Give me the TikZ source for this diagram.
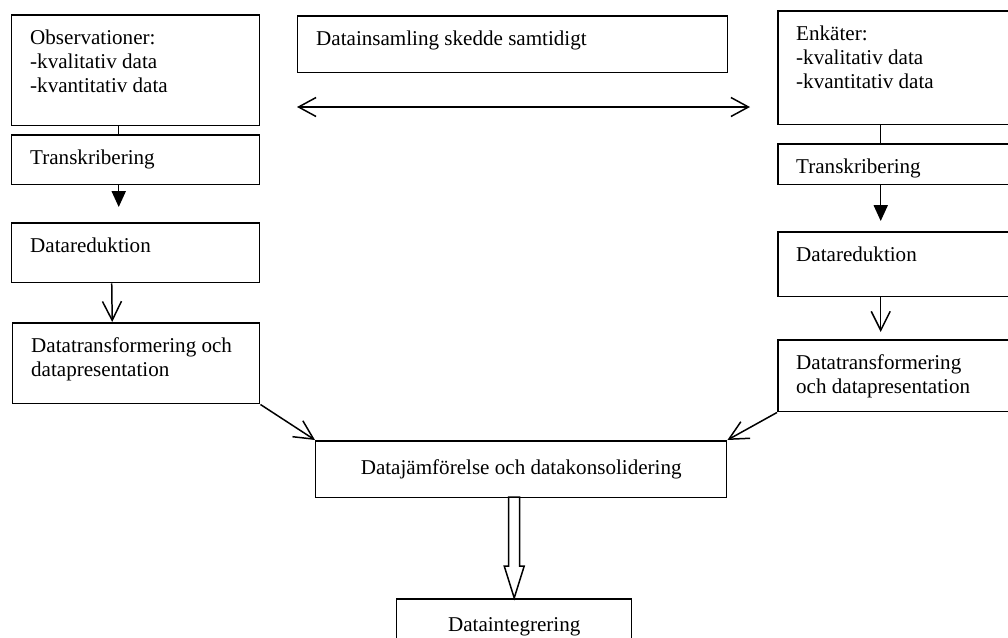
\documentclass[tikz,border=0pt]{standalone}
\usepackage{fontspec}
\setmainfont{Liberation Serif}
\usetikzlibrary{arrows.meta}

\begin{document}
\begin{tikzpicture}[x=0.02cm, y=-0.02cm, line width=0.85pt,
    font=\fontsize{12pt}{13.8pt}\selectfont,
    box/.style={draw, rectangle, anchor=north west, minimum width=4.96cm, inner sep=0pt},
    boxtext/.style={anchor=north west, align=left, inner xsep=10.5pt, inner ysep=8.5pt},
    centerbox/.style={draw, rectangle, anchor=north west, minimum height=1.14cm},
    vhead/.style={-{Straight Barb[length=0.38cm, width=0.38cm]}},
    fhead/.style={-{Triangle[length=9pt, width=8pt]}}]

            \useasboundingbox (0,0) rectangle (1008,637);
            \clip (0,0) rectangle (1008,637);

            % left column
            \node[box, minimum height=2.22cm, label={[boxtext]north west:{Observationer:\\-kvalitativ data\\-kvantitativ data}}] (obs) at (11,14) {};
            \node[box, minimum height=1cm, label={[boxtext]north west:Transkribering}] (transL) at (11,134) {};
            \node[box, minimum height=1.2cm, label={[boxtext]north west:Datareduktion}] (redL) at (11,222) {};
            \node[box, minimum width=4.94cm, minimum height=1.62cm, label={[boxtext]north west:{Datatransformering och\\datapresentation}}] (trfL) at (12,322) {};

            % middle
            \node[box, minimum width=8.6cm, minimum height=1.14cm, label={[boxtext]north west:Datainsamling skedde samtidigt}] (mid) at (297,15) {};
            \coordinate (sl) at (297,107);
            \coordinate (sr) at (750,107);

            % right column
            \node[box, minimum width=5cm, minimum height=2.28cm, label={[boxtext]north west:{Enkäter:\\-kvalitativ data\\-kvantitativ data}}] (enk) at (777,10) {};
            \node[box, minimum width=5cm, minimum height=0.82cm, label={[boxtext]north west:Transkribering}] (transR) at (777,143) {};
            \node[box, minimum width=5cm, minimum height=1.3cm, label={[boxtext]north west:Datareduktion}] (redR) at (777,231) {};
            \node[box, minimum width=5cm, minimum height=1.44cm, label={[boxtext]north west:{Datatransformering\\och datapresentation}}] (trfR) at (777,339) {};

            % bottom
            \node[centerbox, minimum width=8.22cm] (comb) at (315,440) {Datajämförelse och datakonsolidering};
            \node[centerbox, minimum width=4.7cm] (integ) at (396,598) {Dataintegrering};

            % connectors
            \draw ([xshift=-0.34cm]obs.south) -- ([xshift=-0.34cm]transL.north);
            \draw[fhead] ([xshift=-0.34cm]transL.south) -- ([xshift=-0.34cm,yshift=0.3cm]redL.north);
            \draw[vhead] ([xshift=-0.48cm]redL.south) -- ([xshift=-0.48cm]trfL.north);
            \draw ([xshift=-0.44cm]enk.south) -- ([xshift=-0.44cm]transR.north);
            \draw[fhead] ([xshift=-0.44cm]transR.south) -- ([xshift=-0.44cm,yshift=0.2cm]redR.north);
            \draw[vhead] ([xshift=-0.44cm]redR.south) -- ([xshift=-0.44cm,yshift=0.14cm]trfR.north);
            \draw[{Straight Barb[length=0.35cm, width=0.38cm]}-{Straight Barb[length=0.35cm, width=0.38cm]}] (sl) -- (sr);
            \draw[vhead] (trfL.south east) -- (comb.north west);
            \draw[vhead] (trfR.south west) -- (comb.north east);
            \draw (integ.north) -- ++(-10,-32) -- ++(4.5,0) -- ++(0,-69) -- ++(11,0) -- ++(0,69) -- ++(4.5,0) -- cycle;

\end{tikzpicture}
\end{document}
